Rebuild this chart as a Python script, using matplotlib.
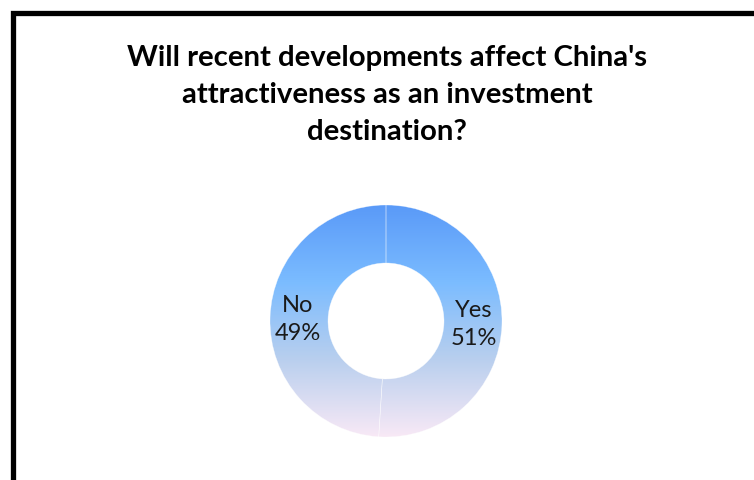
import matplotlib
matplotlib.use("Agg")
import matplotlib.pyplot as plt
import numpy as np
from matplotlib.colors import LinearSegmentedColormap

labels = ["Yes", "No"]
shares = [51, 49]
title = "Will recent developments affect China's\nattractiveness as an investment\ndestination?"

# vertical fill used for the ring, top to bottom
fill_colors = ["#5a9af8", "#7bbcff", "#b9cfee", "#f8e9f6"]

fig = plt.figure(figsize=(7.54, 4.81), dpi=100)
fig.patch.set_facecolor("white")

# chart frame (thick black border, right side runs off the canvas)
frame = fig.add_axes([0, 0, 1, 1])
frame.set_xlim(0, 754)
frame.set_ylim(481, 0)
frame.axis("off")
frame.plot([12.5, 12.5, 760], [490, 13.5, 13.5], color="black", lw=3.8,
           solid_joinstyle="miter", solid_capstyle="butt")

frame.text(387, 95, title, ha="center", va="center", fontsize=21.2,
           fontweight="bold", family="Lato", linespacing=1.52)

# donut
cx, cy, r = 386, 322, 116
ax = fig.add_axes([(cx - r) / 754, (481 - cy - r) / 481, 2 * r / 754, 2 * r / 481])
wedges, texts = ax.pie(shares, labels=[f"{l}\n{v}%" for l, v in zip(labels, shares)],
                       startangle=90, counterclock=False, radius=1,
                       wedgeprops=dict(width=0.5, edgecolor=(1, 1, 1, 0.55), linewidth=0.4),
                       labeldistance=0.76,
                       textprops=dict(fontsize=17, family="Lato", color="#1a1a1a",
                                      linespacing=1.4))
ax.set_xlim(-1, 1)
ax.set_ylim(-1, 1)
ax.set_aspect("equal")
ax.axis("off")

cmap = LinearSegmentedColormap.from_list("ring", fill_colors)
grad = np.linspace(0, 1, 256).reshape(-1, 1)
for w in wedges:
    w.set_facecolor("none")
    im = ax.imshow(grad, cmap=cmap, extent=[-1, 1, -1, 1], origin="upper",
                   aspect="auto", zorder=0.5)
    im.set_clip_path(w)
for t in texts:
    t.set_ha("center")
    t.set_va("center")

fig.savefig("out.png", dpi=100)
